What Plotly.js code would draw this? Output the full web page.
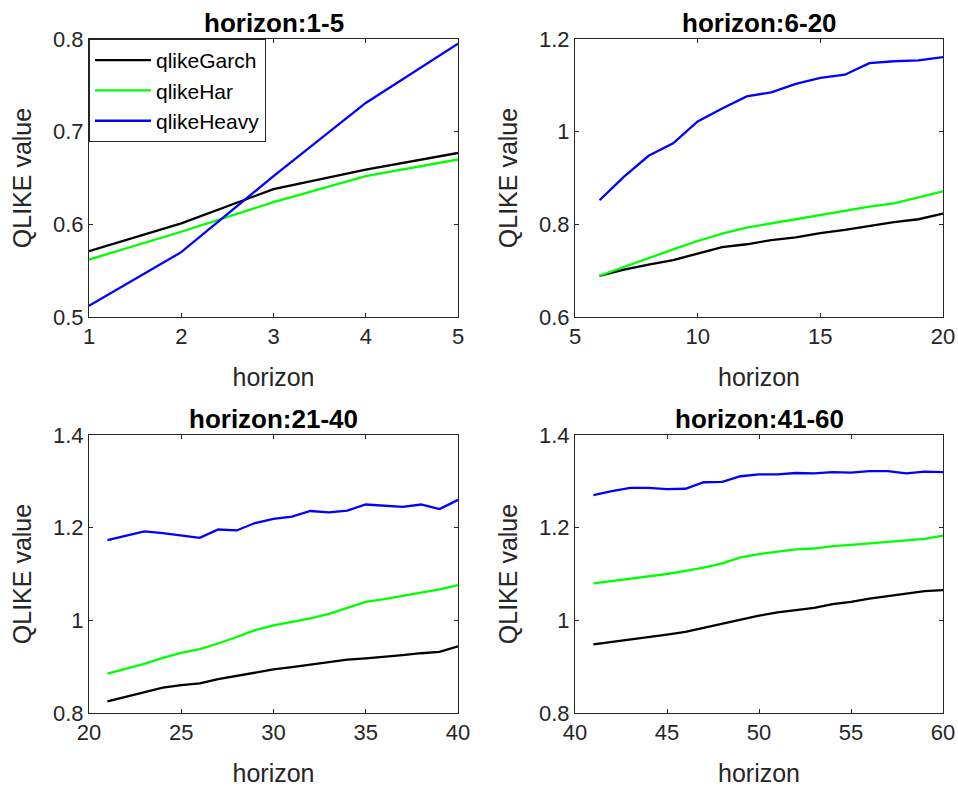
<!DOCTYPE html>
<html>
<head>
<meta charset="utf-8">
<script src="https://cdn.plot.ly/plotly-3.0.1.min.js"></script>
<style>html,body{margin:0;padding:0;background:#fff;}#chart{width:958px;height:787px;}</style>
</head>
<body>
<div id="chart"></div>
<script>
// ---- data ----
const seriesNames = ["qlikeGarch", "qlikeHar", "qlikeHeavy"];
const panelTitles = ["horizon:1-5", "horizon:6-20", "horizon:21-40", "horizon:41-60"];

const h1 = [1, 2, 3, 4, 5];
const garch1 = [0.571, 0.601, 0.638, 0.659, 0.677];
const har1   = [0.562, 0.592, 0.624, 0.652, 0.670];
const heavy1 = [0.512, 0.570, 0.652, 0.731, 0.795];

const h2 = [6, 7, 8, 9, 10, 11, 12, 13, 14, 15, 16, 17, 18, 19, 20];
const garch2 = [0.689, 0.702, 0.713, 0.723, 0.737, 0.751, 0.757, 0.766, 0.772, 0.781, 0.788, 0.796, 0.805, 0.811, 0.823];
const har2   = [0.689, 0.708, 0.728, 0.746, 0.764, 0.780, 0.793, 0.802, 0.811, 0.820, 0.830, 0.838, 0.845, 0.858, 0.871];
const heavy2 = [0.852, 0.903, 0.948, 0.975, 1.022, 1.050, 1.076, 1.085, 1.103, 1.116, 1.123, 1.148, 1.152, 1.154, 1.161];

const h3 = [21, 22, 23, 24, 25, 26, 27, 28, 29, 30, 31, 32, 33, 34, 35, 36, 37, 38, 39, 40];
const garch3 = [0.825, 0.835, 0.845, 0.855, 0.860, 0.864, 0.873, 0.880, 0.888, 0.894, 0.899, 0.904, 0.909, 0.915, 0.918, 0.921, 0.925, 0.929, 0.932, 0.944];
const har3   = [0.885, 0.896, 0.906, 0.919, 0.930, 0.938, 0.950, 0.964, 0.979, 0.989, 0.996, 1.004, 1.014, 1.027, 1.040, 1.046, 1.053, 1.060, 1.067, 1.076];
const heavy3 = [1.173, 1.182, 1.192, 1.188, 1.183, 1.178, 1.196, 1.194, 1.210, 1.219, 1.224, 1.236, 1.233, 1.237, 1.250, 1.247, 1.245, 1.250, 1.240, 1.260];

const h4 = [41, 42, 43, 44, 45, 46, 47, 48, 49, 50, 51, 52, 53, 54, 55, 56, 57, 58, 59, 60];
const garch4 = [0.948, 0.953, 0.958, 0.963, 0.969, 0.975, 0.984, 0.992, 1.002, 1.010, 1.017, 1.022, 1.027, 1.035, 1.040, 1.047, 1.052, 1.058, 1.063, 1.065];
const har4   = [1.080, 1.085, 1.091, 1.096, 1.100, 1.107, 1.114, 1.123, 1.136, 1.143, 1.148, 1.153, 1.155, 1.160, 1.163, 1.166, 1.169, 1.172, 1.176, 1.183];
const heavy4 = [1.270, 1.279, 1.286, 1.286, 1.283, 1.284, 1.298, 1.299, 1.311, 1.315, 1.315, 1.318, 1.317, 1.320, 1.319, 1.322, 1.322, 1.317, 1.321, 1.320];

const xRanges = [[1, 5], [5, 20], [20, 40], [40, 60]];
const xTickSteps = [1, 5, 5, 5];
const yRanges = [[0.5, 0.8], [0.6, 1.2], [0.8, 1.4], [0.8, 1.4]];
const yTickSteps = [0.1, 0.2, 0.2, 0.2];

// ---- build ----
const colors = ["#000000", "#00ff00", "#0000ff"];
const panels = [
  [h1, [garch1, har1, heavy1]],
  [h2, [garch2, har2, heavy2]],
  [h3, [garch3, har3, heavy3]],
  [h4, [garch4, har4, heavy4]]
];

const W = 958, H = 787;
const xDomains = [[89 / W, 458 / W], [575 / W, 943 / W], [89 / W, 458 / W], [575 / W, 943 / W]];
const yDomains = [[1 - 317 / H, 1 - 39 / H], [1 - 317 / H, 1 - 39 / H], [1 - 713 / H, 1 - 435 / H], [1 - 713 / H, 1 - 435 / H]];

const FONT = "Arial, 'Liberation Sans', Helvetica, sans-serif";
const axColor = "#262626";

const traces = [];
panels.forEach((p, i) => {
  const suffix = i === 0 ? "" : String(i + 1);
  p[1].forEach((vals, s) => {
    traces.push({
      x: p[0], y: vals, type: "scatter", mode: "lines",
      name: seriesNames[s],
      line: {color: colors[s], width: 2.3},
      xaxis: "x" + suffix, yaxis: "y" + suffix,
      showlegend: i === 0
    });
  });
});

const layout = {
  width: W, height: H,
  margin: {l: 0, r: 0, t: 0, b: 0},
  paper_bgcolor: "#ffffff",
  plot_bgcolor: "#ffffff",
  font: {family: FONT, color: axColor, size: 22},
  showlegend: true,
  legend: {
    x: 89 / W, y: 1 - 39 / H, xanchor: "left", yanchor: "top",
    bgcolor: "#ffffff", bordercolor: axColor, borderwidth: 1,
    font: {family: FONT, size: 21, color: "#000000"},
    itemwidth: 56, tracegroupgap: 0
  },
  annotations: []
};

for (let i = 0; i < 4; i++) {
  const suffix = i === 0 ? "" : String(i + 1);
  layout["xaxis" + suffix] = {
    domain: xDomains[i], range: xRanges[i], dtick: xTickSteps[i], tick0: 0,
    anchor: "y" + suffix,
    showgrid: false, zeroline: false,
    showline: true, linecolor: axColor, linewidth: 1, mirror: "ticks",
    ticks: "inside", ticklen: 4, tickcolor: axColor, tickwidth: 1,
    tickfont: {family: FONT, size: 22, color: axColor},
    title: {text: "horizon", font: {family: FONT, size: 25, color: axColor}, standoff: 20}
  };
  layout["yaxis" + suffix] = {
    domain: yDomains[i], range: yRanges[i], dtick: yTickSteps[i], tick0: 0,
    anchor: "x" + suffix,
    showgrid: false, zeroline: false,
    showline: true, linecolor: axColor, linewidth: 1, mirror: "ticks",
    ticks: "inside", ticklen: 4, tickcolor: axColor, tickwidth: 1,
    tickfont: {family: FONT, size: 22, color: axColor},
    title: {text: "QLIKE value", font: {family: FONT, size: 25, color: axColor}, standoff: 14}
  };
  const xd = xDomains[i];
  layout.annotations.push({
    text: "<b>" + panelTitles[i] + "</b>",
    xref: "paper", yref: "paper",
    x: (xd[0] + xd[1]) / 2, y: yDomains[i][1] + 16 / H,
    xanchor: "center", yanchor: "middle", showarrow: false,
    font: {family: FONT, size: 26, color: "#000000"}
  });
}

Plotly.newPlot("chart", traces, layout, {displayModeBar: false, staticPlot: true});
</script>
</body>
</html>
